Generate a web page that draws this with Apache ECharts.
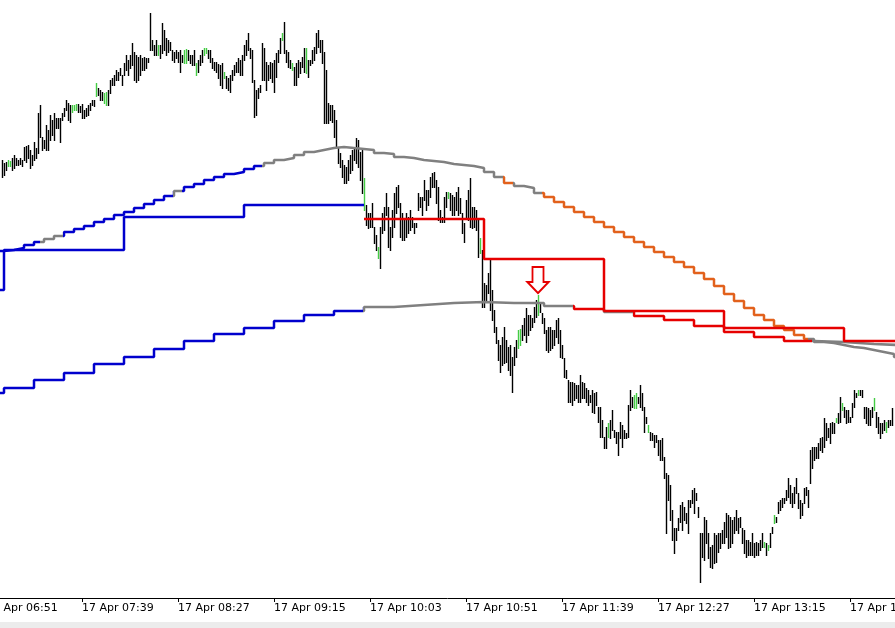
<!DOCTYPE html>
<html>
<head>
<meta charset="utf-8">
<title>17 Apr M1</title>
<script src="https://cdn.jsdelivr.net/npm/echarts@6/dist/echarts.min.js"></script>
<style>
  html, body { margin: 0; padding: 0; background: #ececec; }
  #main { width: 895px; height: 622px; background: #fff; }
</style>
</head>
<body>
<div id="main"></div>
<script>
// prices are in points above the chart's base price
// M1 bars, one per minute from firstBar
const firstBar = '06:59'
const highs = [
  440, 437, 438, 440, 439, 442, 445, 442, 440, 442,
  440, 453, 454, 455, 450, 445, 458, 452, 487, 495,
  463, 460, 475, 470, 485, 480, 487, 482, 482, 482,
  487, 492, 500, 497, 495, 495, 495, 496, 496, 494,
  496, 490, 492, 495, 497, 500, 500, 517, 512, 510,
  508, 507, 508, 510, 520, 522, 525, 530, 528, 532,
  525, 537, 545, 540, 545, 557, 548, 545, 543, 545,
  542, 543, 542, 542, 587, 560, 555, 560, 555, 555,
  577, 570, 562, 560, 558, 550, 548, 550, 548, 550,
  545, 550, 551, 550, 545, 545, 550, 537, 540, 545,
  550, 552, 552, 550, 550, 542, 538, 538, 536, 535,
  537, 528, 524, 522, 525, 530, 535, 538, 542, 540,
  545, 555, 560, 567, 552, 550, 520, 510, 512, 515,
  557, 552, 538, 535, 538, 537, 540, 547, 550, 562,
  567, 578, 550, 548, 540, 537, 533, 537, 540, 538,
  543, 552, 552, 540, 540, 550, 553, 567, 570, 560,
  560, 548, 530, 497, 495, 495, 490, 480, 453, 447,
  440, 435, 433, 440, 445, 450, 453, 462, 460, 448,
  450, 422, 395, 387, 387, 397, 373, 365, 353, 373,
  387, 393, 407, 393, 373, 390, 407, 413, 415, 397,
  387, 380, 387, 383, 390, 383, 377, 377, 407, 403,
  403, 420, 410, 410, 423, 427, 428, 420, 413, 390,
  383, 403, 408, 408, 407, 405, 403, 408, 413, 402,
  387, 377, 400, 410, 422, 393, 393, 390, 380, 362,
  350, 317, 315, 327, 340, 310, 290, 273, 260, 255,
  263, 273, 260, 253, 255, 243, 253, 260, 270, 271,
  275, 282, 292, 285, 285, 282, 293, 300, 305, 298,
  287, 282, 270, 273, 273, 270, 270, 280, 282, 270,
  255, 242, 230, 220, 218, 218, 217, 215, 215, 225,
  218, 217, 212, 210, 205, 210, 207, 208, 193, 193,
  180, 163, 173, 177, 180, 190, 170, 168, 168, 178,
  175, 170, 167, 195, 210, 203, 205, 207, 203, 215,
  207, 193, 183, 175, 168, 167, 165, 165, 160, 160,
  162, 143, 127, 125, 115, 90, 72, 72, 82, 95,
  98, 93, 87, 100, 100, 110, 112, 107, 93, 67,
  67, 83, 80, 67, 53, 55, 67, 65, 67, 67,
  70, 78, 87, 85, 83, 80, 83, 90, 82, 83,
  72, 70, 60, 60, 58, 67, 57, 58, 57, 60,
  67, 58, 57, 55, 67, 73, 85, 83, 98, 100,
  102, 102, 110, 122, 115, 107, 113, 122, 107, 100,
  97, 112, 113, 110, 150, 153, 153, 153, 157, 162,
  163, 182, 177, 172, 177, 178, 177, 182, 187, 203,
  197, 193, 190, 190, 183, 197, 210, 207, 210, 210,
  210, 193, 193, 192, 190, 193, 202, 188, 183, 177,
  177, 180, 178, 180, 180, 192
]
const lows = [
  423, 425, 430, 434, 434, 430, 432, 435, 435, 436,
  434, 440, 438, 442, 432, 435, 440, 442, 447, 463,
  450, 452, 450, 450, 460, 465, 460, 472, 472, 458,
  480, 484, 490, 480, 478, 488, 490, 490, 488, 488,
  482, 482, 484, 485, 490, 495, 494, 504, 505, 500,
  500, 497, 495, 495, 507, 515, 515, 520, 520, 525,
  515, 525, 530, 525, 532, 535, 520, 518, 520, 525,
  530, 530, 532, 538, 550, 550, 545, 545, 545, 542,
  547, 550, 545, 548, 550, 540, 538, 542, 538, 528,
  538, 537, 537, 540, 537, 535, 535, 525, 528, 535,
  538, 545, 547, 542, 538, 532, 530, 528, 522, 515,
  512, 522, 512, 510, 508, 520, 525, 528, 528, 525,
  525, 540, 545, 550, 542, 518, 483, 485, 502, 508,
  520, 520, 510, 520, 522, 518, 508, 523, 538, 547,
  560, 547, 538, 533, 532, 530, 515, 515, 523, 527,
  533, 528, 527, 523, 535, 537, 540, 547, 553, 548,
  537, 477, 477, 477, 480, 478, 463, 453, 437, 433,
  423, 417, 417, 420, 427, 430, 440, 437, 433, 420,
  407, 390, 375, 372, 373, 373, 357, 350, 342, 332,
  367, 370, 385, 353, 350, 363, 373, 387, 393, 363,
  360, 360, 363, 367, 370, 373, 367, 373, 390, 393,
  385, 400, 390, 395, 403, 413, 413, 397, 380, 378,
  378, 378, 393, 402, 390, 385, 385, 390, 385, 387,
  367, 358, 383, 380, 373, 372, 373, 370, 343, 347,
  293, 293, 300, 307, 290, 280, 268, 257, 240, 228,
  235, 237, 238, 230, 225, 208, 235, 243, 252, 255,
  260, 265, 258, 265, 270, 273, 278, 283, 285, 288,
  277, 267, 250, 248, 250, 252, 255, 263, 257, 243,
  242, 223, 222, 198, 198, 195, 200, 202, 198, 198,
  202, 202, 198, 195, 198, 188, 187, 195, 178, 163,
  163, 152, 152, 163, 162, 170, 163, 157, 145, 162,
  153, 162, 162, 163, 190, 193, 192, 192, 197, 193,
  190, 168, 177, 168, 160, 160, 153, 158, 145, 140,
  140, 122, 67, 100, 80, 60, 47, 60, 70, 78,
  70, 80, 77, 67, 93, 97, 87, 100, 83, 18,
  43, 40, 57, 42, 33, 32, 37, 38, 48, 52,
  57, 57, 63, 52, 53, 57, 67, 70, 67, 73,
  57, 47, 43, 45, 45, 45, 43, 45, 45, 50,
  53, 53, 45, 50, 53, 67, 77, 78, 87, 90,
  93, 97, 100, 103, 97, 93, 97, 107, 92, 82,
  85, 97, 105, 93, 117, 132, 140, 142, 142, 150,
  148, 153, 160, 163, 157, 167, 167, 178, 177, 178,
  190, 183, 177, 178, 178, 183, 193, 203, 205, 205,
  203, 182, 177, 175, 175, 183, 190, 173, 167, 162,
  167, 170, 168, 173, 175, 175
]
// bars drawn in the "up" colour
const greenBars = [
  '07:02', '07:03', '07:34', '07:35', '07:36', '07:46', '07:50', '07:51', '08:17', '08:30',
  '08:31', '08:36', '08:40', '08:41', '08:50', '09:19', '09:24', '09:31', '10:00', '10:07',
  '10:42', '10:58', '11:17', '11:18', '11:27', '12:02', '12:15', '12:16', '12:22', '13:20',
  '13:22', '13:25', '13:56', '13:59', '14:07', '14:15', '14:21'
]
const tickLabels = [
  '17 Apr 06:51', '17 Apr 07:39', '17 Apr 08:27', '17 Apr 09:15', '17 Apr 10:03',
  '17 Apr 10:51', '17 Apr 11:39', '17 Apr 12:27', '17 Apr 13:15', '17 Apr 14:03'
]

// M5 curve (upper arc), one level per 5 minutes from m5Start
const m5Start = '06:55'
const m5Level = [
  349,
  350, 352, 355, 358, 361, 364, 368, 371, 374, 378,
  381, 385, 388, 392, 396, 400, 404, 409, 413, 416,
  420, 423, 426, 428, 431, 434, 437, 440, 442, 445,
  448, 450, 452, 453, 452, 451, 450, 447, 446, 443,
  442, 440, 439, 438, 436, 435, 434, 432, 428, 423,
  417, 414, 412, 407, 403, 398, 393, 388, 383, 378,
  373, 368, 363, 358, 353, 348, 343, 338, 333, 327,
  321, 314, 306, 299, 292, 285, 280, 274, 270, 265,
  261, 258, 257, 255, 253, 252, 250, 248, 246, 243
]
// M15 curve (lower arc)
const m15Start = '06:45'
const m15Level = [
  207, 212, 220, 227, 236, 243, 251, 259, 266, 272, 279, 285, 289, 293, 295, 297,
  298, 297, 297, 294, 291, 288, 284, 280, 274, 268, 263, 259, 258, 256, 255
]
// H1 level, blue until h1TurnRed, red after
const h1Start = '06:00'
const h1Level = [310, 350, 383, 395, 381, 341, 289, 272, 259]
const h1TurnRed = '10:00'

const sellSignal = [['11:27', 305]]

const BLUE = '#0000cd'
const GREY = '#808080'
const RED = '#e60000'
const ORANGE = '#e2611c'
const GREEN = '#44cc44'

// colour sections of the curves, in minutes after 06:51
const m5Pieces = [
  { lt: 27, color: BLUE }, { gte: 27, lt: 38.5, color: GREY },
  { gte: 38.5, lt: 93.5, color: BLUE }, { gte: 93.5, lt: 98, color: GREY },
  { gte: 98, lt: 138, color: BLUE }, { gte: 138, lt: 258.5, color: GREY },
  { gte: 258.5, lt: 263.5, color: ORANGE }, { gte: 263.5, lt: 278, color: GREY },
  { gte: 278, lt: 411, color: ORANGE }, { gte: 411, color: GREY }
]
const m15Pieces = [
  { lt: 188.5, color: BLUE }, { gte: 188.5, lt: 293.5, color: GREY },
  { gte: 293.5, lt: 308.5, color: RED }, { gte: 308.5, lt: 323.5, color: GREY },
  { gte: 323.5, lt: 413, color: RED }, { gte: 413, color: GREY }
]

const axisMax = 456

function toMinute(t) {
  const [h, m] = t.split(':').map(Number)
  return h * 60 + m - (6 * 60 + 51)
}

function stepData(start, len, levels) {
  const t0 = toMinute(start)
  const pts = levels.map((v, k) => [t0 + len * k, v])
  pts.push([axisMax, levels[levels.length - 1]])
  return pts
}

const barStart = toMinute(firstBar)
const greenSet = new Set(greenBars.map(toMinute))
const barData = highs.map((h, k) => [barStart + k, h, lows[k], greenSet.has(barStart + k) ? 1 : 0])

const h1 = stepData(h1Start, 60, h1Level)
const redFrom = toMinute(h1TurnRed)
const h1Blue = h1.filter(p => p[0] < redFrom)
h1Blue.push([redFrom, h1Blue[h1Blue.length - 1][1]])
const h1Red = h1.filter(p => p[0] >= redFrom)

const signalData = sellSignal.map(s => [toMinute(s[0]), s[1]])

const myChart = echarts.init(document.getElementById('main'))

myChart.setOption({
  animation: false,
  grid: {
    left: -14,
    right: -3,
    top: 0,
    bottom: 24,
    containLabel: false,
    outerBoundsMode: 'none'
  },
  xAxis: {
    type: 'value',
    min: 0,
    max: axisMax,
    interval: 48,
    axisLine: { onZero: false, lineStyle: { color: '#000', width: 1 } },
    axisTick: { length: 4, lineStyle: { color: '#000' } },
    axisLabel: {
      align: 'left',
      margin: 5,
      color: '#000',
      fontFamily: 'DejaVu Sans',
      fontSize: 11,
      showMinLabel: true,
      showMaxLabel: false,
      formatter: v => (v % 48 === 0 && tickLabels[v / 48]) || ''
    },
    splitLine: { show: false }
  },
  yAxis: {
    type: 'value',
    min: 2,
    max: 600,
    show: false,
    splitLine: { show: false }
  },
  visualMap: [
    { type: 'piecewise', show: false, seriesIndex: 1, dimension: 0, pieces: m5Pieces },
    { type: 'piecewise', show: false, seriesIndex: 2, dimension: 0, pieces: m15Pieces }
  ],
  series: [
    {
      type: 'custom',
      z: 1,
      silent: true,
      data: barData,
      encode: { x: 0, y: [1, 2] },
      renderItem: function (params, api) {
        const top = api.coord([api.value(0), api.value(1)])
        const bottom = api.coord([api.value(0), api.value(2)])
        const x = Math.round(top[0]) + 0.5
        return {
          type: 'line',
          shape: { x1: x, y1: Math.round(top[1]), x2: x, y2: Math.round(bottom[1]) + 1 },
          style: { stroke: api.value(3) ? GREEN : '#000', lineWidth: 1.4 }
        }
      }
    },
    {
      type: 'line',
      step: 'end',
      z: 2,
      silent: true,
      showSymbol: false,
      data: stepData(m5Start, 5, m5Level),
      lineStyle: { width: 2.5 }
    },
    {
      type: 'line',
      step: 'end',
      z: 2,
      silent: true,
      showSymbol: false,
      data: stepData(m15Start, 15, m15Level),
      lineStyle: { width: 2.5 }
    },
    {
      type: 'line',
      step: 'end',
      z: 3,
      silent: true,
      showSymbol: false,
      data: h1Blue,
      lineStyle: { width: 2.5, color: BLUE }
    },
    {
      type: 'line',
      step: 'end',
      z: 3,
      silent: true,
      showSymbol: false,
      data: h1Red,
      lineStyle: { width: 2.5, color: RED }
    },
    {
      type: 'scatter',
      z: 4,
      silent: true,
      data: signalData,
      symbol: 'path://M5,0 L16,0 L16,15 L21,15 L10.5,26 L0,15 L5,15 Z',
      symbolSize: [21, 26],
      symbolOffset: [0, -15],
      itemStyle: { color: '#fff', borderColor: RED, borderWidth: 2, opacity: 1 }
    }
  ]
})
</script>
</body>
</html>
